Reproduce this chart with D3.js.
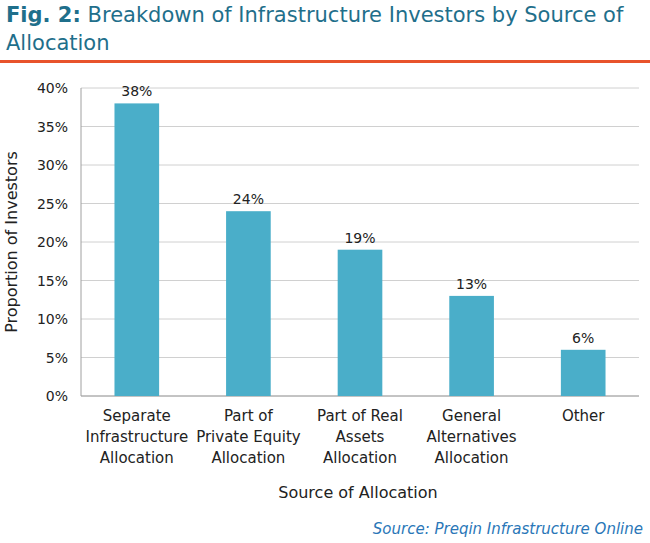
<!DOCTYPE html>
<html lang="en">
<head>
<meta charset="UTF-8">
<script src="https://cdn.jsdelivr.net/npm/d3@7/dist/d3.min.js"></script>
<style>
  body { margin: 0; background: #fff; }
  text { font-family: "DejaVu Sans", sans-serif; }
</style>
</head>
<body>
<script>
const categories = [
  ["Separate", "Infrastructure", "Allocation"],
  ["Part of", "Private Equity", "Allocation"],
  ["Part of Real", "Assets", "Allocation"],
  ["General", "Alternatives", "Allocation"],
  ["Other"]
];
const values = [38, 24, 19, 13, 6];
const yTicks = [0, 5, 10, 15, 20, 25, 30, 35, 40];

const width = 650, height = 543;
const svg = d3.select("body").append("svg").attr("width", width).attr("height", height);

// title
const title = svg.append("text").attr("x", 6).attr("y", 22).attr("fill", "#1f6f8b").attr("font-size", 21);
title.append("tspan").attr("font-weight", "bold").text("Fig. 2:");
title.append("tspan").text(" Breakdown of Infrastructure Investors by Source of");
svg.append("text").attr("x", 6).attr("y", 50).attr("fill", "#1f6f8b").attr("font-size", 21).text("Allocation");
svg.append("rect").attr("x", 0).attr("y", 60).attr("width", width).attr("height", 3).attr("fill", "#e8532b");

const x = d3.scaleBand().domain(d3.range(values.length)).range([81, 639]).paddingInner(0.6).paddingOuter(0.3);
const y = d3.scaleLinear().domain([0, 40]).range([396, 88]);

// gridlines
svg.append("g").selectAll("line").data(yTicks).join("line")
  .attr("x1", 81).attr("x2", 639).attr("y1", d => y(d)).attr("y2", d => y(d))
  .attr("stroke", "#d0d0d0");
svg.append("line").attr("x1", 81).attr("x2", 81).attr("y1", y(40)).attr("y2", y(0)).attr("stroke", "#a0a0a0");
svg.append("line").attr("x1", 81).attr("x2", 639).attr("y1", y(0)).attr("y2", y(0)).attr("stroke", "#a0a0a0");

svg.append("g").selectAll("text").data(yTicks).join("text")
  .attr("x", 68).attr("y", d => y(d) + 5).attr("text-anchor", "end")
  .attr("font-size", 14).attr("fill", "#222").text(d => d + "%");

svg.append("g").selectAll("rect").data(values).join("rect")
  .attr("x", (d, i) => x(i)).attr("width", x.bandwidth())
  .attr("y", d => y(d)).attr("height", d => y(0) - y(d))
  .attr("fill", "#4aaec9");

svg.append("g").selectAll("text").data(values).join("text")
  .attr("x", (d, i) => x(i) + x.bandwidth() / 2).attr("y", d => y(d) - 7)
  .attr("text-anchor", "middle").attr("font-size", 14).attr("fill", "#222").text(d => d + "%");

const cl = svg.append("g").selectAll("text").data(categories).join("text")
  .attr("text-anchor", "middle").attr("font-size", 15).attr("fill", "#222");
cl.selectAll("tspan").data((d, i) => d.map(t => ({ t, i }))).join("tspan")
  .attr("x", d => x(d.i) + x.bandwidth() / 2).attr("y", (d, j) => 421 + j * 21).text(d => d.t);

svg.append("text").attr("x", 358).attr("y", 498).attr("text-anchor", "middle")
  .attr("font-size", 16).attr("fill", "#222").text("Source of Allocation");
svg.append("text").attr("transform", "translate(17,242) rotate(-90)").attr("text-anchor", "middle")
  .attr("font-size", 16).attr("fill", "#222").text("Proportion of Investors");

svg.append("text").attr("x", 643).attr("y", 534).attr("text-anchor", "end")
  .attr("font-size", 15).attr("font-style", "italic").attr("fill", "#2a77b8").text("Source: Preqin Infrastructure Online");
</script>
</body>
</html>
